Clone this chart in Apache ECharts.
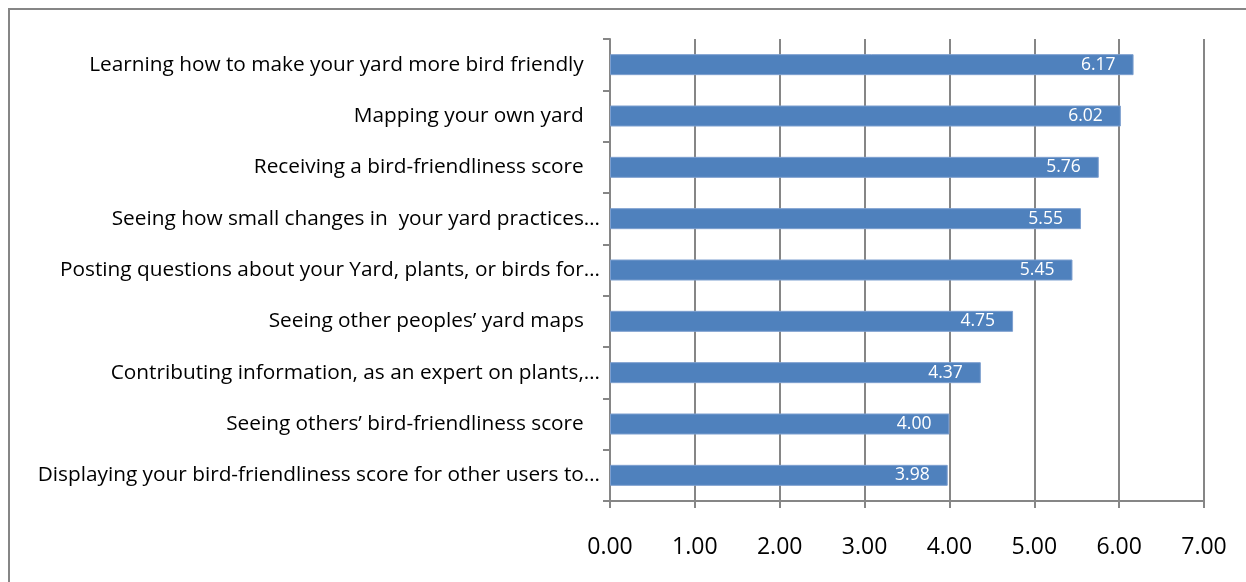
<!DOCTYPE html>
<html>
<head>
<meta charset="utf-8">
<script src="https://cdn.jsdelivr.net/npm/echarts@6/dist/echarts.min.js"></script>
<style>
  html, body { margin: 0; padding: 0; background: #fff; }
  #chart { width: 1246px; height: 582px; }
</style>
</head>
<body>
<div id="chart"></div>
<script>
// Survey items, top to bottom
const categories = [
  'Learning how to make your yard more bird friendly ',
  'Mapping your own yard ',
  'Receiving a bird-friendliness score ',
  'Seeing how small changes in  your yard practices…',
  'Posting questions about your Yard, plants, or birds for…',
  'Seeing other peoples’ yard maps ',
  'Contributing information, as an expert on plants,…',
  'Seeing others’ bird-friendliness score ',
  'Displaying your bird-friendliness score for other users to…'
];
// Mean rating for each item
const meanScores = [6.17, 6.02, 5.76, 5.55, 5.45, 4.75, 4.37, 4.00, 3.98];
// Value-axis tick labels
const xTickLabels = ['0.00', '1.00', '2.00', '3.00', '4.00', '5.00', '6.00', '7.00'];

const FONT = '"Open Sans", "Noto Sans", sans-serif';
const GRAY = '#868686';

const chart = echarts.init(document.getElementById('chart'), null, { renderer: 'canvas' });
chart.setOption({
  animation: false,
  backgroundColor: '#fff',
  grid: { left: 610, right: 42, top: 39, bottom: 81, containLabel: false },
  xAxis: {
    type: 'value',
    min: 0,
    max: 7,
    interval: 1,
    axisLine: { show: true, lineStyle: { color: GRAY, width: 2 } },
    axisTick: { show: true, length: 7, lineStyle: { color: GRAY, width: 2 } },
    splitLine: { show: true, lineStyle: { color: GRAY, width: 2 } },
    axisLabel: {
      margin: 35,
      color: '#000',
      fontFamily: FONT,
      fontSize: 23,
      formatter: v => xTickLabels[Math.round(v)]
    }
  },
  yAxis: {
    type: 'category',
    inverse: true,
    data: categories,
    axisLine: { show: true, lineStyle: { color: GRAY, width: 2 } },
    axisTick: { show: true, length: 7, alignWithLabel: false, lineStyle: { color: GRAY, width: 2 } },
    axisLabel: {
      margin: 10,
      color: '#000',
      fontFamily: FONT,
      fontSize: 20.8,
      formatter: v => v.endsWith(' ') ? v + '  ' : v
    }
  },
  series: [{
    type: 'bar',
    data: meanScores,
    barWidth: 21,
    itemStyle: { color: '#4F81BD', borderColor: '#7d9fcf', borderWidth: 1 },
    label: {
      show: true,
      position: 'insideRight',
      distance: 18,
      color: '#fff',
      fontFamily: FONT,
      fontSize: 17.5,
      formatter: p => p.value.toFixed(2)
    }
  }],
  graphic: [
    { type: 'line', shape: { x1: 8, y1: 9, x2: 1246, y2: 9 }, style: { stroke: GRAY, lineWidth: 2 }, silent: true },
    { type: 'line', shape: { x1: 9, y1: 9, x2: 9, y2: 582 }, style: { stroke: GRAY, lineWidth: 2 }, silent: true }
  ]
});
</script>
</body>
</html>
